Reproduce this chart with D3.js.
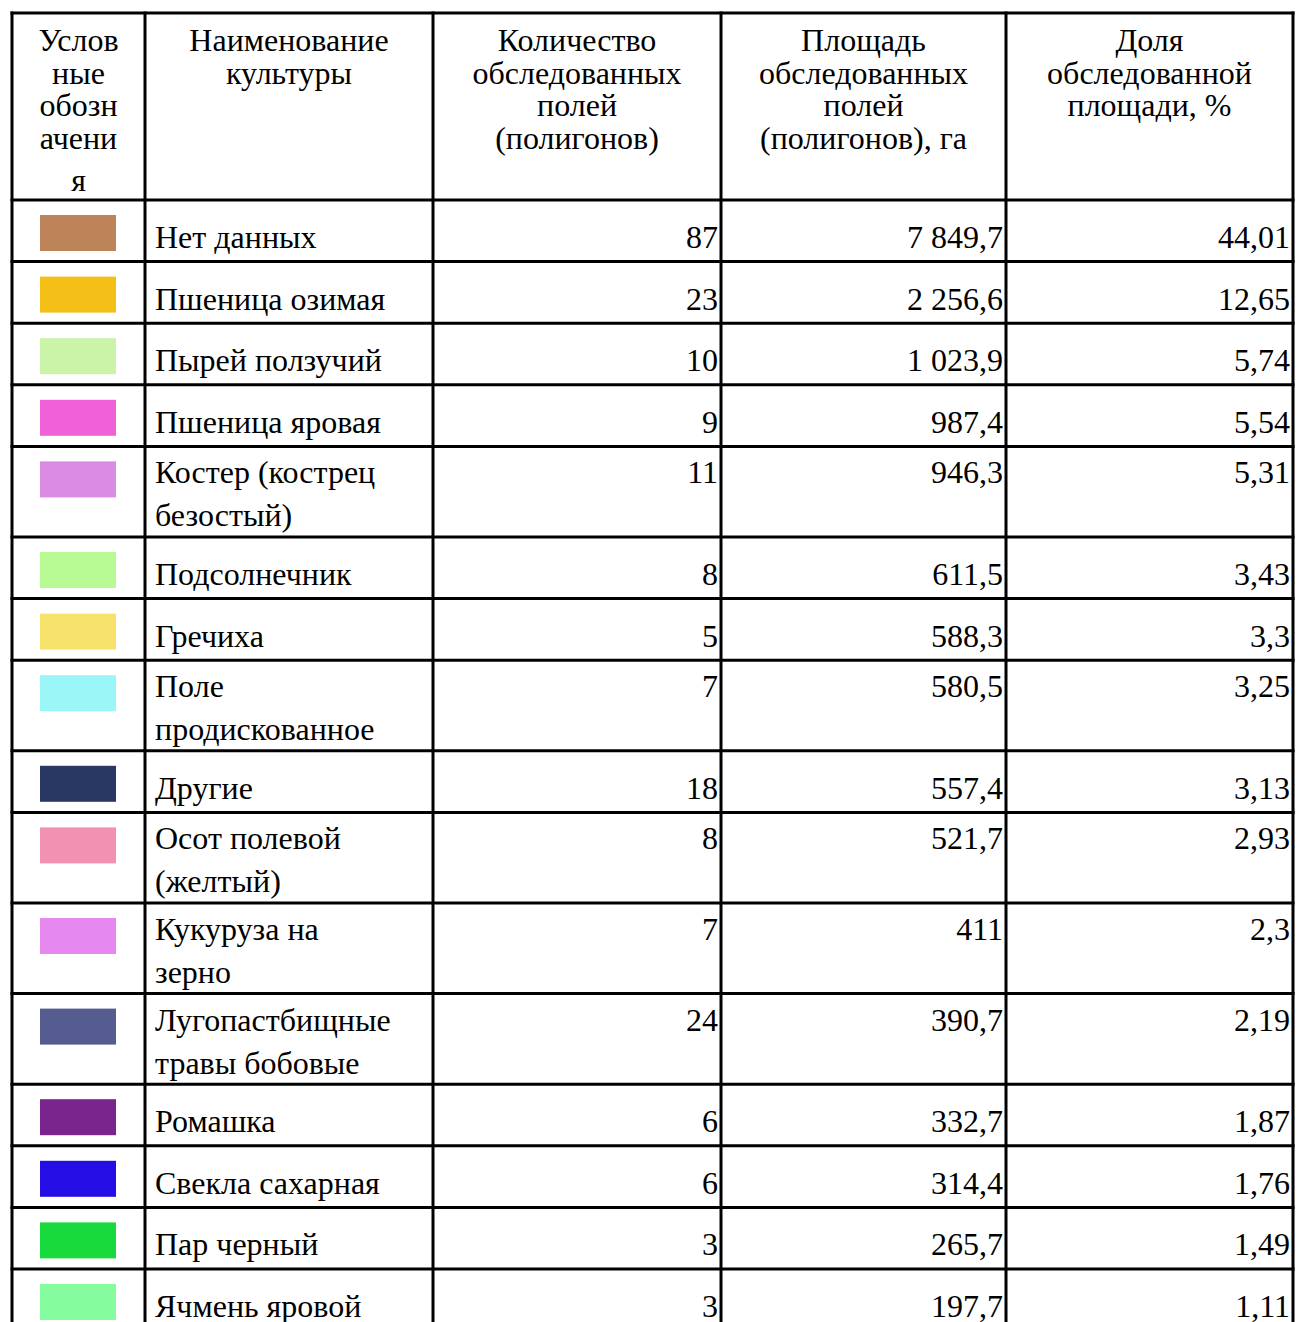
<!DOCTYPE html>
<html lang="ru">
<head>
<meta charset="UTF-8">
<title>Культуры</title>
<script src="https://d3js.org/d3.v7.min.js"></script>
<style>
  body { margin: 0; background: #fff; }
  svg text { font-family: "Liberation Serif", "Times New Roman", serif; fill: #000; }
</style>
</head>
<body>
<div id="chart"></div>
<script>
// table data
const headers = [
    ["Услов", "ные", "обозн", "ачени", "я"],
    ["Наименование", "культуры"],
    ["Количество", "обследованных", "полей", "(полигонов)"],
    ["Площадь", "обследованных", "полей", "(полигонов), га"],
    ["Доля", "обследованной", "площади, %"]
];
const names = [
    "Нет данных", "Пшеница озимая", "Пырей ползучий", "Пшеница яровая",
    "Костер (кострец\nбезостый)", "Подсолнечник", "Гречиха", "Поле\nпродискованное",
    "Другие", "Осот полевой\n(желтый)", "Кукуруза на\nзерно", "Лугопастбищные\nтравы бобовые",
    "Ромашка", "Свекла сахарная", "Пар черный", "Ячмень яровой"
];
const colors = [
    "#bd845a", "#f4c017", "#cbf4a8", "#f060d8", "#da8be4", "#b8fb94", "#f7e36c", "#9bf7f7",
    "#283863", "#f391b3", "#e488f0", "#555d90", "#7a248e", "#250de6", "#19da3d", "#85fd9e"
];
const counts = [87, 23, 10, 9, 11, 8, 5, 7, 18, 8, 7, 24, 6, 6, 3, 3];
const areas = [7849.7, 2256.6, 1023.9, 987.4, 946.3, 611.5, 588.3, 580.5, 557.4, 521.7, 411, 390.7, 332.7, 314.4, 265.7, 197.7];
const shares = [44.01, 12.65, 5.74, 5.54, 5.31, 3.43, 3.3, 3.25, 3.13, 2.93, 2.3, 2.19, 1.87, 1.76, 1.49, 1.11];

const width = 1297, height = 1322;
const colEdges = [12, 145, 433, 721, 1006, 1293];
const tableTop = 13, headerH = 187, singleH = 61.6, doubleH = 90.6;
const fontSize = 32, lineGap = 43, headLine = 32.5;

const ru = d3.formatLocale({ decimal: ",", thousands: " ", grouping: [3], currency: ["", ""] });
const fmtArea = ru.format(",.1~f");
const fmtShare = ru.format(".2~f");

const rows = names.map((n, i) => ({
    lines: n.split("\n"),
    color: colors[i],
    count: String(counts[i]),
    area: fmtArea(areas[i]),
    share: fmtShare(shares[i])
}));
rows.forEach(r => r.h = r.lines.length > 1 ? doubleH : singleH);
const ends = d3.cumsum(rows, r => r.h);
rows.forEach((r, i) => r.y = tableTop + headerH + (i ? ends[i - 1] : 0));

const svg = d3.select("#chart").append("svg")
    .attr("width", width)
    .attr("height", height);

// header text
headers.forEach((lines, c) => {
    const cx = (colEdges[c] + colEdges[c + 1]) / 2;
    lines.forEach((t, k) => {
        // the lone last letter of the first header sits lower
        const extra = (c === 0 && k === 4) ? 10 : 0;
        svg.append("text")
            .attr("x", cx)
            .attr("y", tableTop + 38 + k * headLine + extra)
            .attr("text-anchor", "middle")
            .attr("font-size", fontSize)
            .text(t);
    });
});

// body rows
const g = svg.selectAll(".row")
    .data(rows)
    .enter().append("g")
    .attr("class", "row")
    .attr("transform", d => `translate(0,${d.y})`);

g.append("rect")
    .attr("x", 40)
    .attr("y", 15)
    .attr("width", 76)
    .attr("height", 36)
    .attr("fill", d => d.color);

const base = d => d.lines.length > 1 ? 37 : 48;

g.each(function(d) {
    const row = d3.select(this);
    d.lines.forEach((t, k) => {
        row.append("text")
            .attr("x", colEdges[1] + 10)
            .attr("y", base(d) + k * lineGap)
            .attr("font-size", fontSize)
            .text(t);
    });
});

[["count", 2], ["area", 3], ["share", 4]].forEach(([key, c]) => {
    g.append("text")
        .attr("x", colEdges[c + 1] - 3)
        .attr("y", base)
        .attr("text-anchor", "end")
        .attr("font-size", fontSize)
        .text(d => d[key]);
});

// grid lines
const hLines = [tableTop, tableTop + headerH, ...rows.map(r => r.y + r.h)];
svg.selectAll(".hline")
    .data(hLines)
    .enter().append("line")
    .attr("class", "hline")
    .attr("x1", colEdges[0] - 1.5)
    .attr("x2", colEdges[5] + 1.5)
    .attr("y1", d => d)
    .attr("y2", d => d)
    .attr("stroke", "#000")
    .attr("stroke-width", 3);

svg.selectAll(".vline")
    .data(colEdges)
    .enter().append("line")
    .attr("class", "vline")
    .attr("x1", d => d)
    .attr("x2", d => d)
    .attr("y1", tableTop - 1.5)
    .attr("y2", height)
    .attr("stroke", "#000")
    .attr("stroke-width", 3);
</script>
</body>
</html>
